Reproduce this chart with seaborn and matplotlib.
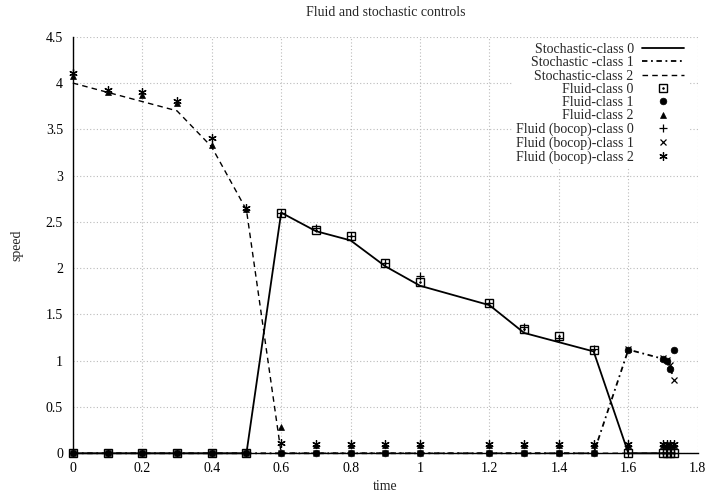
import numpy as np
import matplotlib
matplotlib.use('Agg')
import matplotlib.pyplot as plt
import seaborn as sns
from matplotlib.ticker import FuncFormatter, MultipleLocator
from matplotlib.legend_handler import HandlerTuple

# time grid of the controls
time = [0, 0.1, 0.2, 0.3, 0.4, 0.5, 0.6, 0.7, 0.8, 0.9, 1.0,
        1.2, 1.3, 1.4, 1.5, 1.6, 1.7, 1.71, 1.72, 1.73]

stoch_0 = [0, 0, 0, 0, 0, 0, 2.6, 2.4, 2.3, 2.02, 1.81,
           1.6, 1.3, 1.2, 1.1, 0, 0, 0, 0, 0]
stoch_1 = [0, 0, 0, 0, 0, 0, 0, 0, 0, 0, 0,
           0, 0, 0, 0, 1.12, 1.02, 1.0, 0.91, 0.83]
stoch_2 = [4.0, 3.9, 3.8, 3.7, 3.31, 2.63, 0, 0, 0, 0, 0,
           0, 0, 0, 0, 0, 0, 0, 0, 0]

fluid_0 = [0, 0, 0, 0, 0, 0, 2.6, 2.41, 2.35, 2.06, 1.85,
           1.62, 1.34, 1.27, 1.12, 0, 0, 0, 0, 0]
fluid_1 = [0, 0, 0, 0, 0, 0, 0, 0, 0, 0, 0,
           0, 0, 0, 0, 1.12, 1.02, 1.0, 0.91, 1.12]
fluid_2 = [4.08, 3.9, 3.87, 3.78, 3.33, 2.64, 0.28, 0.09, 0.09, 0.09, 0.09,
           0.09, 0.09, 0.09, 0.09, 0.09, 0.09, 0.09, 0.09, 0.09]

bocop_0 = [0, 0, 0, 0, 0, 0, 2.6, 2.43, 2.35, 2.06, 1.91,
           1.62, 1.36, 1.25, 1.13, 0, 0, 0, 0, 0]
bocop_1 = [0, 0, 0, 0, 0, 0, 0, 0, 0, 0, 0,
           0, 0, 0, 0, 1.13, 1.03, 1.01, 0.95, 0.79]
bocop_2 = [4.11, 3.92, 3.9, 3.81, 3.41, 2.65, 0.11, 0.1, 0.1, 0.1, 0.1,
           0.1, 0.1, 0.1, 0.1, 0.1, 0.1, 0.1, 0.1, 0.1]

sns.set_style('white')
plt.rcParams['font.family'] = ['Liberation Serif', 'DejaVu Serif']
plt.rcParams['font.size'] = 10

fig, ax = plt.subplots(figsize=(7.07, 4.97), dpi=100)
fig.subplots_adjust(left=0.103, right=0.987, top=0.926, bottom=0.088)

k = dict(ax=ax, color='black', sort=False, clip_on=False)

# stochastic controls: lines
sns.lineplot(x=time, y=stoch_0, lw=1.3, linestyle='-', label='Stochastic-class 0', **k)
sns.lineplot(x=time, y=stoch_1, lw=1.3, linestyle=(0, (3, 2, 1, 2)), label='Stochastic -class 1', **k)
sns.lineplot(x=time, y=stoch_2, lw=1.0, linestyle=(0, (4, 3)), label='Stochastic-class 2', **k)

pk = dict(linestyle='', markeredgecolor='black', **k)
# fluid controls: points
sns.lineplot(x=time, y=fluid_0, marker='s', ms=5.5, mfc='none', markeredgewidth=1.0,
             label='Fluid-class 0', **pk)
sq = ax.lines[-1]
sns.lineplot(x=time, y=fluid_0, marker='.', ms=2.5, mfc='black', markeredgewidth=0.5, **pk)
dot = ax.lines[-1]
sns.lineplot(x=time, y=fluid_1, marker='o', ms=4.8, mfc='black', markeredgewidth=0.5,
             label='Fluid-class 1', **pk)
sns.lineplot(x=time, y=fluid_2, marker='^', ms=4, mfc='black', markeredgewidth=0.5,
             label='Fluid-class 2', **pk)
sns.lineplot(x=time, y=bocop_0, marker='+', ms=5.5, markeredgewidth=0.9,
             label='Fluid (bocop)-class 0', **pk)
sns.lineplot(x=time, y=bocop_1, marker='x', ms=5, markeredgewidth=0.9,
             label='Fluid (bocop)-class 1', **pk)
sns.lineplot(x=time, y=bocop_2, marker=(6, 2, 0), ms=6, markeredgewidth=0.9,
             label='Fluid (bocop)-class 2', **pk)

ax.set_xlim(0, 1.8)
ax.set_ylim(0, 4.5)
ax.xaxis.set_major_locator(MultipleLocator(0.2))
ax.yaxis.set_major_locator(MultipleLocator(0.5))
fmt = FuncFormatter(lambda v, p: '%g' % round(v, 2))
ax.xaxis.set_major_formatter(fmt)
ax.yaxis.set_major_formatter(fmt)
ax.tick_params(direction='in', length=5, width=0.8, colors='black', labelsize=10)
ax.tick_params(axis='x', pad=6)
ax.tick_params(axis='y', pad=7)
ax.grid(True, color='#bbbbbb', linestyle=(0, (1, 2)), lw=0.8)
ax.set_axisbelow(True)
for s in ['top', 'right']:
    ax.spines[s].set_visible(False)
for s in ['left', 'bottom']:
    ax.spines[s].set_color('black')
    ax.spines[s].set_linewidth(1.0)

ax.set_title('Fluid and stochastic controls', fontsize=10, pad=15)
ax.set_xlabel('time', fontsize=10, labelpad=4)
ax.set_ylabel('speed', fontsize=10, labelpad=16)

handles, labels = ax.get_legend_handles_labels()
i = labels.index('Fluid-class 0')
handles[i] = (sq, dot)
leg = ax.legend(handles, labels, loc='upper right', bbox_to_anchor=(0.984, 0.995),
                markerfirst=False, frameon=True, fancybox=False, framealpha=1,
                facecolor='white', edgecolor='none', fontsize=10,
                handlelength=3.0, handletextpad=0.6, labelspacing=0.02,
                borderpad=0.3, borderaxespad=0,
                handler_map={tuple: HandlerTuple(ndivide=1)})
leg.set_zorder(5)

fig.savefig('out.png', dpi=100)
